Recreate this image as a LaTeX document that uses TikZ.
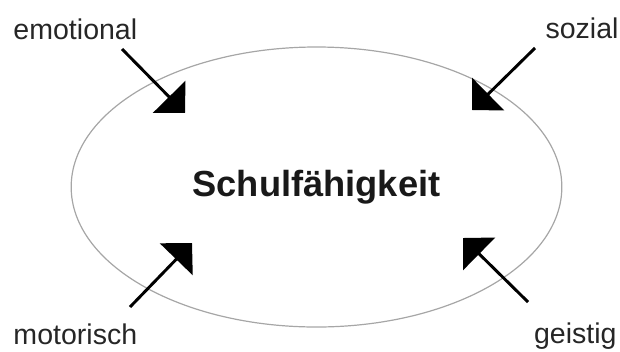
\documentclass[tikz,border=0pt]{standalone}
\usepackage{fontspec}
\setmainfont{Liberation Sans}
\usetikzlibrary{arrows.meta,shapes.geometric}

\tikzset{every picture/.style={line width=0.75pt}}
\tikzset{
  label/.style={font=\fontsize{21.4}{24}\selectfont, text=black!85, inner sep=0pt},
  pfeil/.style={line width=2.2pt, -{Triangle[length=17pt,width=34pt]}},
}

\begin{document}
\begin{tikzpicture}[x=0.75pt,y=0.75pt,yscale=-1,xscale=1]
	\useasboundingbox (0,0) rectangle (620,351);

	%Ellipse [id:schul]
	\node [ellipse, draw=black!35, line width=0.9pt, minimum width=368pt, minimum height=210pt,
	       font=\fontsize{27.2}{30}\bfseries, text=black!90] (schul) at (316.5,187) {Schulfähigkeit};

	% Text Node
	\node [label, anchor=base west] (emotional) at (13,39) {emotional};
	% Text Node
	\node [label, anchor=base east] (sozial) at (619,38) {sozial};
	% Text Node
	\node [label, anchor=base west] (motorisch) at (13,344) {motorisch};
	% Text Node
	\node [label, anchor=base east] (geistig) at (617,343) {geistig};

	\coordinate (emoS) at (122,49);  \coordinate (emoT) at (185,113);
	\coordinate (sozS) at (535,48);  \coordinate (sozT) at (472,110);
	\coordinate (motS) at (130,307); \coordinate (motT) at (192,243);
	\coordinate (geiS) at (528,302); \coordinate (geiT) at (463,238);

	%Straight Lines
	\draw [pfeil] (emoS) -- (emoT);
	%Straight Lines
	\draw [pfeil] (sozS) -- (sozT);
	%Straight Lines
	\draw [pfeil] (motS) -- (motT);
	%Straight Lines
	\draw [pfeil] (geiS) -- (geiT);

\end{tikzpicture}
\end{document}
